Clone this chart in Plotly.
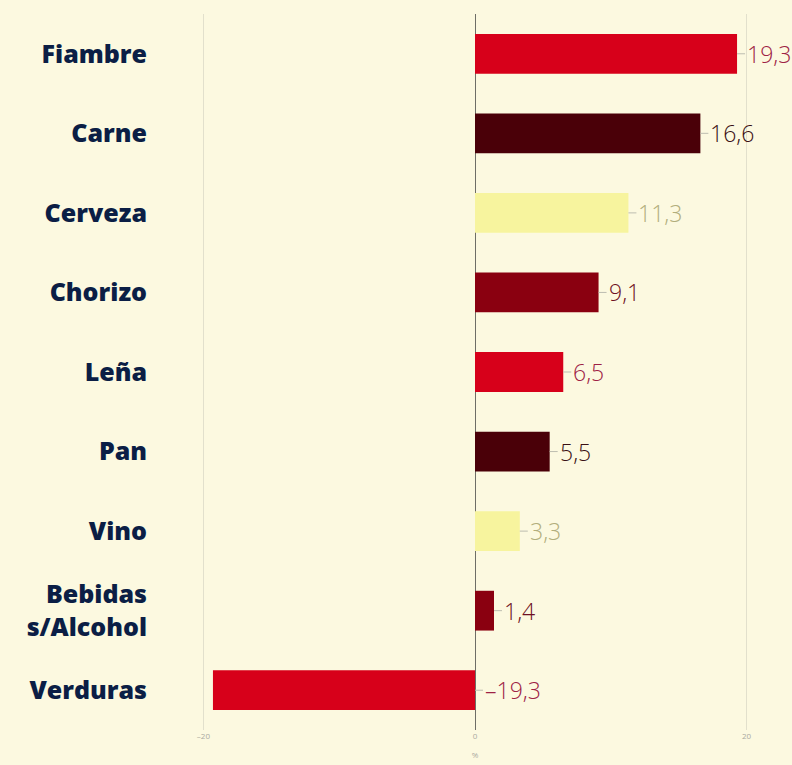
import plotly.graph_objects as go

categories = ["Fiambre", "Carne", "Cerveza", "Chorizo", "Leña", "Pan", "Vino",
              "Bebidas<br>s/Alcohol", "Verduras"]
values = [19.3, 16.6, 11.3, 9.1, 6.5, 5.5, 3.3, 1.4, -19.3]
bar_colors = ["#D7001A", "#4A0008", "#F7F49E", "#8A0010", "#D7001A", "#4A0008",
              "#F7F49E", "#8A0010", "#D7001A"]
label_colors = ["#9E2245", "#3A1014", "#B2AE7C", "#6E1022", "#9E2245", "#3A1014",
                "#B2AE7C", "#6E1022", "#9E2245"]
tick_vals = [-20, 0, 20]
tick_text = ["–20", "0", "20"]

BG = "#FCF9E0"

def fmt(v):
    s = f"{abs(v):.1f}".replace(".", ",")
    return ("–" + s) if v < 0 else s

fig = go.Figure()
fig.add_trace(go.Bar(
    x=values, y=categories, orientation="h",
    marker=dict(color=bar_colors, line=dict(width=0)),
    width=0.5, hoverinfo="skip",
))

annotations = []
for cat, v, c in zip(categories, values, label_colors):
    annotations.append(dict(
        x=max(v, 0), y=cat, xref="x", yref="y",
        text=fmt(v), showarrow=True, arrowhead=0, arrowwidth=1,
        arrowcolor="#BDBDB0", ax=8, ay=0, axref="pixel", ayref="pixel",
        xanchor="left", yanchor="middle",
        font=dict(family="Open Sans", size=23, color=c, weight=300),
    ))

fig.update_layout(
    width=792, height=765,
    paper_bgcolor=BG, plot_bgcolor=BG,
    margin=dict(l=160, r=2, t=14, b=35),
    showlegend=False,
    annotations=annotations,
    bargap=0.5,
)
fig.update_xaxes(
    range=[-23.2, 23.2],
    tickvals=tick_vals, ticktext=tick_text,
    tickfont=dict(family="Open Sans", size=8, color="#AAAAA0"),
    showgrid=True, gridcolor="#E2E0CC", gridwidth=1,
    zeroline=True, zerolinecolor="#6E6E66", zerolinewidth=1,
    title=dict(text="%", font=dict(family="Open Sans", size=8, color="#AAAAA0"), standoff=12),
    fixedrange=True,
)
fig.update_yaxes(
    categoryorder="array", categoryarray=categories[::-1],
    tickfont=dict(family="Open Sans", size=25, color="#0B1E45", weight=800),
    ticklabelstandoff=12,
    showgrid=False, zeroline=False,
)

fig.write_html(
    "out.html",
    config={"displayModeBar": False},
    post_script="document.body.style.margin='0';document.body.style.background='" + BG + "';",
)
